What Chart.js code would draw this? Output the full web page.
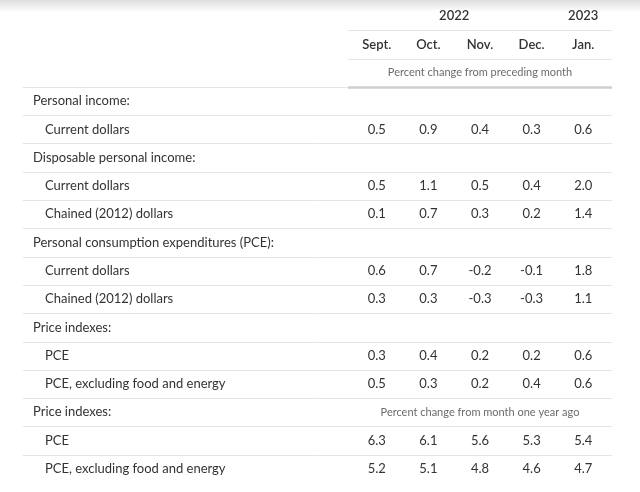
<!DOCTYPE html>
<html>
<head>
<meta charset="utf-8">
<script src="https://cdn.jsdelivr.net/npm/chart.js@4.4.0/dist/chart.umd.min.js"></script>
<style>
  html, body { margin: 0; padding: 0; background: #fff; }
  #wrap { width: 640px; height: 492px; }
</style>
</head>
<body>
<div id="wrap"><canvas id="table" width="640" height="492"></canvas></div>
<script>
// ====== data ======
const years = ["2022", "2023"];
const months = ["Sept.", "Oct.", "Nov.", "Dec.", "Jan."];
const noteMonthly = "Percent change from preceding month";
const noteYearly = "Percent change from month one year ago";

// row label, indent (0 = group title, 1 = item)
const rowLabels = [
  "Personal income:",
  "Current dollars",
  "Disposable personal income:",
  "Current dollars",
  "Chained (2012) dollars",
  "Personal consumption expenditures (PCE):",
  "Current dollars",
  "Chained (2012) dollars",
  "Price indexes:",
  "PCE",
  "PCE, excluding food and energy",
  "Price indexes:",
  "PCE",
  "PCE, excluding food and energy"
];
const rowIndent = [0, 1, 0, 1, 1, 0, 1, 1, 0, 1, 1, 0, 1, 1];

const personalIncomeCurrent   = ["0.5", "0.9", "0.4", "0.3", "0.6"];
const disposableCurrent       = ["0.5", "1.1", "0.5", "0.4", "2.0"];
const disposableChained       = ["0.1", "0.7", "0.3", "0.2", "1.4"];
const pceCurrent              = ["0.6", "0.7", "-0.2", "-0.1", "1.8"];
const pceChained              = ["0.3", "0.3", "-0.3", "-0.3", "1.1"];
const priceMonthlyPce         = ["0.3", "0.4", "0.2", "0.2", "0.6"];
const priceMonthlyCore        = ["0.5", "0.3", "0.2", "0.4", "0.6"];
const priceYearlyPce          = ["6.3", "6.1", "5.6", "5.3", "5.4"];
const priceYearlyCore         = ["5.2", "5.1", "4.8", "4.6", "4.7"];

// values for each body row (null = title row)
const rowValues = [
  null, personalIncomeCurrent,
  null, disposableCurrent, disposableChained,
  null, pceCurrent, pceChained,
  null, priceMonthlyPce, priceMonthlyCore,
  null, priceYearlyPce, priceYearlyCore
];

// y categories: 3 header rows then body rows
const headRows = ["years", "months", "note"];
const yRows = headRows.concat(rowLabels.map((l, i) => "r" + i));

const FONT = "Lato, 'Open Sans', sans-serif";
const TEXT = "#333";
const GREY = "#6b6b6b";
const LINE = "#e4e4e4";

// ====== table plugin ======
const tablePlugin = {
  id: "tablePlugin",
  beforeDraw(chart) {
    const ctx = chart.ctx;
    const g = ctx.createLinearGradient(0, 0, 0, 12);
    g.addColorStop(0, "rgba(0,0,0,0.13)");
    g.addColorStop(1, "rgba(0,0,0,0)");
    ctx.fillStyle = g;
    ctx.fillRect(0, 0, chart.width, 12);
  },
  afterDatasetsDraw(chart) {
    const ctx = chart.ctx;
    const xs = chart.scales.x, ys = chart.scales.y;
    const area = chart.chartArea;
    const rightL = area.left - 3, rightR = area.right + 3, leftL = 23;
    const rowY = i => ys.getPixelForValue(i);
    const between = i => Math.round((rowY(i) + rowY(i + 1)) / 2) + 0.5;

    ctx.save();
    // lines
    ctx.lineWidth = 1;
    ctx.strokeStyle = LINE;
    const hline = (y, a, b) => { ctx.beginPath(); ctx.moveTo(a, y); ctx.lineTo(b, y); ctx.stroke(); };
    hline(between(0), rightL, rightR);
    hline(between(1), rightL, rightR);
    hline(between(2), leftL, rightL);
    for (let i = 3; i < yRows.length - 1; i++) hline(between(i), leftL, rightR);
    ctx.strokeStyle = "#cfcfcf";
    ctx.lineWidth = 2.5;
    hline(between(2), rightL, rightR);

    ctx.textBaseline = "middle";
    // years
    ctx.fillStyle = TEXT;
    ctx.font = "600 13px " + FONT;
    ctx.textAlign = "center";
    ctx.fillText(years[0], (xs.getPixelForValue(0) + xs.getPixelForValue(3)) / 2, rowY(0));
    ctx.fillText(years[1], xs.getPixelForValue(4), rowY(0));
    // months
    months.forEach((m, i) => ctx.fillText(m, xs.getPixelForValue(i), rowY(1)));
    // notes
    ctx.fillStyle = GREY;
    ctx.font = "11px " + FONT;
    const mid = (xs.getPixelForValue(0) + xs.getPixelForValue(4)) / 2;
    ctx.fillText(noteMonthly, mid, rowY(2));

    // body rows
    rowLabels.forEach((label, r) => {
      const y = rowY(r + 3);
      ctx.textAlign = "left";
      ctx.fillStyle = TEXT;
      ctx.font = "13px " + FONT;
      ctx.fillText(label, rowIndent[r] ? 45 : 33, y);
      const vals = rowValues[r];
      if (vals) {
        ctx.textAlign = "center";
        vals.forEach((v, c) => ctx.fillText(v, xs.getPixelForValue(c), y));
      }
    });
    // yearly note on the second "Price indexes:" row
    ctx.fillStyle = GREY;
    ctx.font = "11px " + FONT;
    ctx.textAlign = "center";
    ctx.fillText(noteYearly, mid, rowY(3 + 11));
    ctx.restore();
  }
};

// one invisible point per value cell, placed on the category scales
const cellPoints = [];
rowValues.forEach((vals, r) => {
  if (!vals) return;
  vals.forEach((v, c) => cellPoints.push({ x: months[c], y: yRows[r + 3] }));
});

new Chart(document.getElementById("table"), {
  type: "line",
  data: {
    datasets: [{
      data: cellPoints,
      showLine: false,
      pointRadius: 0,
      pointHoverRadius: 0
    }]
  },
  options: {
    responsive: false,
    animation: false,
    layout: { padding: { left: 351, right: 31, top: 2, bottom: 9 } },
    plugins: { legend: { display: false }, tooltip: { enabled: false } },
    scales: {
      x: { type: "category", labels: months, offset: true, display: false },
      y: { type: "category", labels: yRows, offset: true, display: false }
    }
  },
  plugins: [tablePlugin]
});
</script>
</body>
</html>
